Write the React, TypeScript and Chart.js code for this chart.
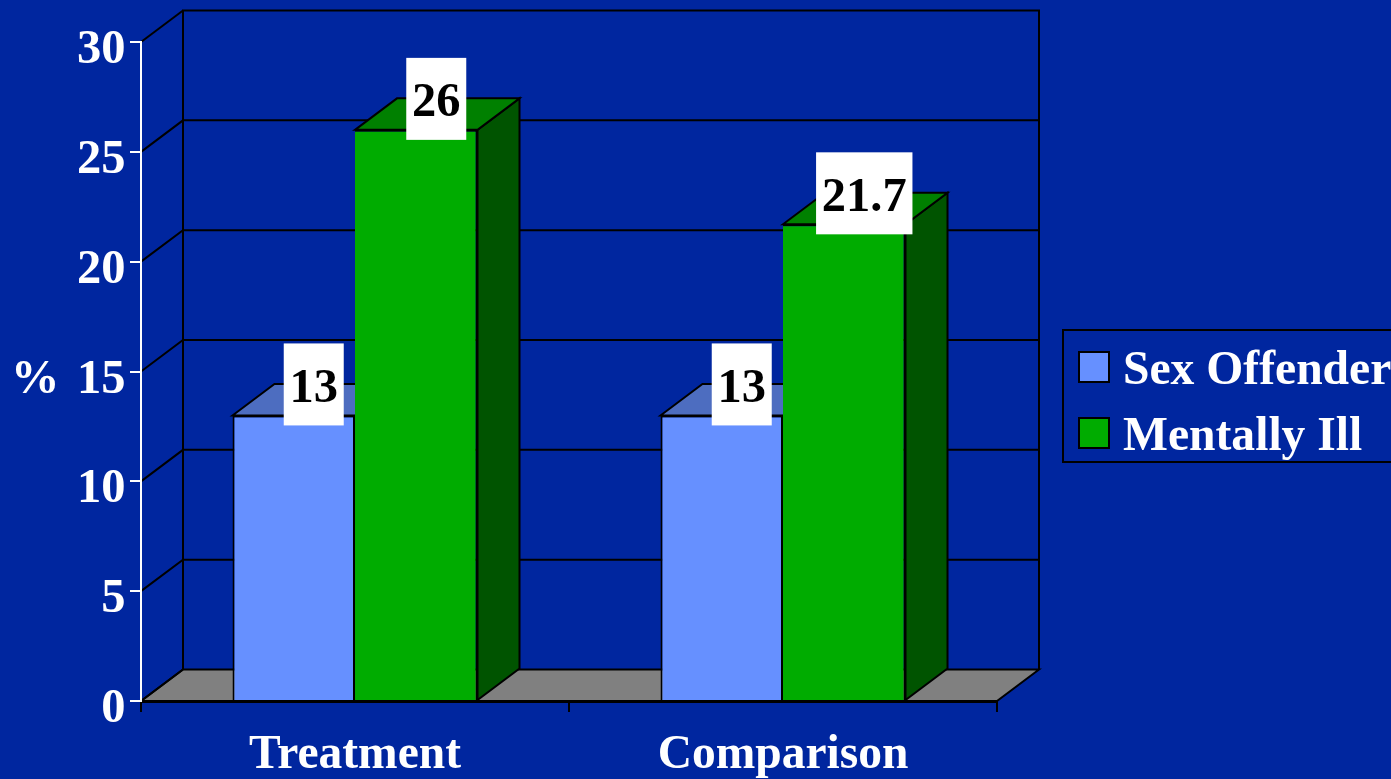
import React, { useEffect, useRef } from "react";
import { Chart, registerables } from "chart.js";

Chart.register(...registerables);

const categories = ["Treatment", "Comparison"];
const sexOffender = [13, 13];
const mentallyIll = [26, 21.7];
const seriesNames = ["Sex Offender", "Mentally Ill"];
const valueLabels = [["13", "13"], ["26", "21.7"]];
const axisUnit = "%";
const yTicks = [0, 5, 10, 15, 20, 25, 30];

const BG = "#00269F";
const FRONT = ["#6690FF", "#00AC00"];
const TOP = ["#4D6DC0", "#008000"];
const SIDE = ["#3A5290", "#005400"];
const FONT = "bold 48.5px 'Liberation Serif'";
const LEGEND_FONT = "bold 47.6px 'Liberation Serif'";
const DX = 42;
const DY = -31.5;

const poly = (ctx: CanvasRenderingContext2D, pts: number[][], fill?: string) => {
  ctx.beginPath();
  pts.forEach((p, i) => (i ? ctx.lineTo(p[0], p[1]) : ctx.moveTo(p[0], p[1])));
  ctx.closePath();
  if (fill) {
    ctx.fillStyle = fill;
    ctx.fill();
  }
  ctx.stroke();
};

const threeD = {
  id: "threeD",
  beforeDatasetsDraw(chart: any) {
    const { ctx, scales } = chart;
    const x = scales.x;
    const y = scales.y;
    const l = x.left;
    const r = x.right;
    const b = y.getPixelForValue(0);
    const t = y.getPixelForValue(30);
    ctx.save();
    ctx.strokeStyle = "#000";
    ctx.lineWidth = 2;
    poly(ctx, [[l, b], [l + DX, b + DY], [r + DX, b + DY], [r, b]], "#808080");
    ctx.beginPath();
    ctx.moveTo(l + DX, b + DY);
    ctx.lineTo(l + DX, t + DY);
    ctx.lineTo(r + DX, t + DY);
    ctx.lineTo(r + DX, b + DY);
    ctx.stroke();
    yTicks.forEach((v) => {
      const p = y.getPixelForValue(v);
      ctx.beginPath();
      ctx.moveTo(l, p);
      ctx.lineTo(l + DX, p + DY);
      if (v > 0 && v < 30) ctx.lineTo(r + DX, p + DY);
      ctx.stroke();
    });
    chart.data.datasets.forEach((_: any, i: number) => {
      chart.getDatasetMeta(i).data.forEach((el: any) => {
        const x0 = el.x - el.width / 2;
        const x1 = el.x + el.width / 2;
        poly(ctx, [[x1, el.y], [x1 + DX, el.y + DY], [x1 + DX, el.base + DY], [x1, el.base]], SIDE[i]);
        poly(ctx, [[x0, el.y], [x0 + DX, el.y + DY], [x1 + DX, el.y + DY], [x1, el.y]], TOP[i]);
      });
    });
    ctx.restore();
  },
  afterDatasetsDraw(chart: any) {
    const { ctx, scales } = chart;
    ctx.save();
    ctx.font = FONT;
    ctx.textAlign = "center";
    ctx.textBaseline = "alphabetic";
    chart.data.datasets.forEach((_: any, i: number) => {
      chart.getDatasetMeta(i).data.forEach((el: any, j: number) => {
        const text = valueLabels[i][j];
        const cx = el.x + DX / 2 - 1;
        const cy = el.y + DY;
        const w = ctx.measureText(text).width + 11.5;
        ctx.fillStyle = "#fff";
        ctx.fillRect(cx - w / 2, cy - 40.5, w, 82);
        ctx.fillStyle = "#000";
        ctx.fillText(text, cx, cy + 18);
      });
    });
    // value-axis labels and unit
    ctx.fillStyle = "#fff";
    ctx.textAlign = "right";
    scales.y.ticks.forEach((tick: any) => {
      ctx.fillText(String(tick.value), 125.5, scales.y.getPixelForValue(tick.value) + 21);
    });
    ctx.textAlign = "left";
    ctx.fillText(axisUnit, 11, scales.y.getPixelForValue(15) + 21);
    // legend
    ctx.strokeStyle = "#000";
    ctx.lineWidth = 2;
    ctx.strokeRect(1063, 330, 340, 132);
    ctx.font = LEGEND_FONT;
    chart.data.datasets.forEach((d: any, i: number) => {
      const top = 352 + i * 66;
      ctx.fillStyle = FRONT[i];
      ctx.fillRect(1079, top, 30, 30);
      ctx.strokeRect(1079, top, 30, 30);
      ctx.fillStyle = "#fff";
      ctx.fillText(d.label, 1123, top + 32);
    });
    ctx.restore();
  },
};

export default function App() {
  const ref = useRef<HTMLCanvasElement>(null);
  useEffect(() => {
    const chart = new Chart(ref.current!, {
      type: "bar",
      data: {
        labels: categories,
        datasets: [
          { label: seriesNames[0], data: sexOffender, backgroundColor: FRONT[0], borderColor: "#000", borderWidth: 2 },
          { label: seriesNames[1], data: mentallyIll, backgroundColor: FRONT[1], borderColor: "#000", borderWidth: { top: 2, right: 2, bottom: 0, left: 0 } },
        ],
      },
      options: {
        animation: false,
        responsive: false,
        layout: { padding: { top: 42, right: 394, left: 0, bottom: 0 } },
        datasets: { bar: { barPercentage: 1, categoryPercentage: 0.5725 } },
        plugins: { legend: { display: false }, tooltip: { enabled: false }, title: { display: false } },
        scales: {
          x: {
            afterFit: (s: any) => { s.height = 78; },
            grid: { drawOnChartArea: false, color: "#000", tickLength: 11, lineWidth: 2, z: 1 },
            border: { color: "#000", width: 3, z: 1 },
            ticks: { color: "#fff", font: { family: "'Liberation Serif'", size: 47.5, weight: "bold" }, padding: 15, maxRotation: 0 },
          },
          y: {
            min: 0,
            max: 30,
            afterFit: (s: any) => { s.width = 141; },
            afterBuildTicks: (s: any) => { s.ticks = yTicks.map((value) => ({ value })); },
            grid: { drawOnChartArea: false, color: "#fff", tickLength: 11, lineWidth: 2, z: 1 },
            border: { color: "#fff", width: 2, z: 1 },
            ticks: { display: false },
          },
        },
      },
      plugins: [threeD],
    } as any);
    return () => chart.destroy();
  }, []);
  return (
    <div style={{ position: "fixed", left: 0, top: 0, width: 1391, height: 779, background: BG, overflow: "hidden" }}>
      <canvas ref={ref} width={1391} height={779} style={{ display: "block" }} />
    </div>
  );
}
